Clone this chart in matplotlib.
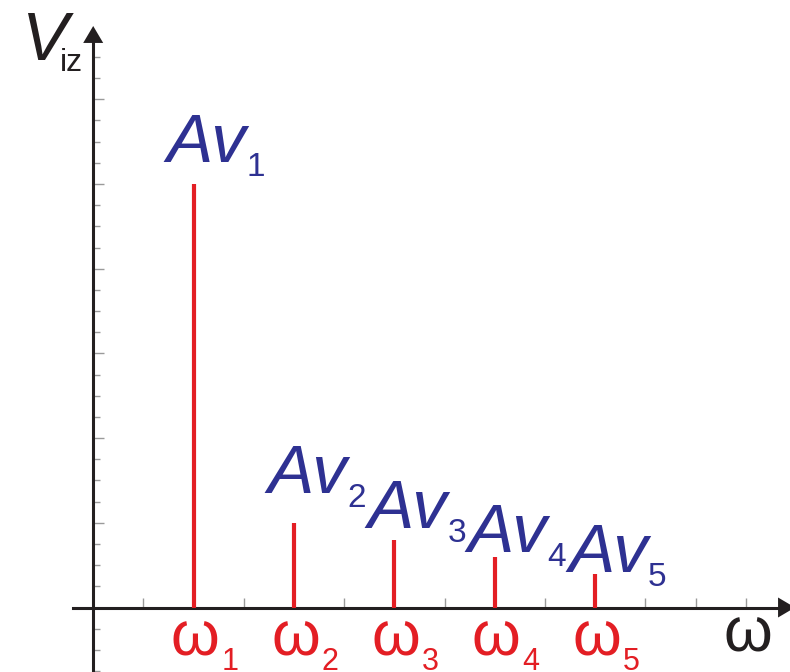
import numpy as np
import matplotlib
matplotlib.use("Agg")
import matplotlib.pyplot as plt
from matplotlib.ticker import FixedLocator

# -------------------------------
# Dados do espectro
# -------------------------------
freq_pos = [2, 4, 6, 8, 10]              # posições de ω1..ω5 (em divisões do eixo)
amplitudes = [5.0, 1.0, 0.8, 0.6, 0.4]   # Av1..Av5
indices = ["1", "2", "3", "4", "5"]

# deslocamento (px) dos rótulos Av acima do topo de cada raia
label_lift = [22, 30, 12, 5, 2]

BLUE = "#2E3192"
RED = "#E31E24"
DARK = "#231F20"
TICK = "#9a9a9a"

plt.rcParams["font.family"] = ["Liberation Sans", "DejaVu Sans"]

fig = plt.figure(figsize=(7.9, 6.72), dpi=100)
ax = fig.add_axes([0, 0, 1, 1])

# escala: 1 divisão x = 50.2 px, 1 divisão y = 84.7 px, origem em (93.2, 607.5)
ax.set_xlim(-93.2 / 50.2, (790 - 93.2) / 50.2)
ax.set_ylim(-(672 - 607.5) / 84.7, 607.5 / 84.7)

# -------------------------------
# Eixos com setas
# -------------------------------
y_top = (607.5 - 43) / 84.7
y_tip = (607.5 - 26) / 84.7
x_right = (778 - 93.2) / 50.2
x_tip = (795 - 93.2) / 50.2

for s in ["top", "right"]:
    ax.spines[s].set_visible(False)
ax.spines["left"].set_position(("data", 0))
ax.spines["bottom"].set_position(("data", 0))
ax.spines["left"].set_bounds(-1, y_top)
ax.spines["bottom"].set_bounds(-0.40, x_right)
for s in ["left", "bottom"]:
    ax.spines[s].set_color(DARK)
    ax.spines[s].set_linewidth(2.2)
    ax.spines[s].set_zorder(3)

arrow = dict(arrowstyle="-|>,head_length=12.2,head_width=7.2", mutation_scale=1,
             color=DARK, lw=0, shrinkA=0, shrinkB=0)
ax.annotate("", xy=(0, y_tip), xytext=(0, y_top - 0.05), arrowprops=arrow,
            annotation_clip=False)
ax.annotate("", xy=(x_tip, 0), xytext=(x_right - 0.1, 0), arrowprops=arrow,
            annotation_clip=False)

# marcas dos eixos
ax.xaxis.set_major_locator(FixedLocator(np.arange(1, 14)))
ax.yaxis.set_major_locator(FixedLocator(np.arange(1, 7)))
ax.yaxis.set_minor_locator(FixedLocator(np.arange(-0.75, 6.6, 0.25)))
ax.tick_params(axis="x", which="major", direction="in", length=7.5, width=1,
               color=TICK, labelbottom=False)
ax.tick_params(axis="y", which="major", direction="in", length=8, width=1,
               color=TICK, labelleft=False)
ax.tick_params(axis="y", which="minor", direction="in", length=5, width=1,
               color=TICK)

# -------------------------------
# Raias do espectro
# -------------------------------
ax.vlines(freq_pos, 0, amplitudes, colors=RED, linewidth=3, zorder=4)

for x, a, k, lift in zip(freq_pos, amplitudes, indices, label_lift):
    t = ax.annotate("Av", xy=(x, a), xytext=(-27, lift), textcoords="offset pixels",
                    ha="left", va="baseline", fontsize=50, style="italic", color=BLUE)
    ax.annotate(k, xy=(1, 0), xycoords=t, xytext=(0, 0), textcoords="offset pixels",
                ha="left", va="baseline", fontsize=24, color=BLUE)

    w = ax.annotate("ω", xy=(x, 0), xytext=(-23, -48), textcoords="offset pixels",
                    ha="left", va="baseline", fontsize=45, color=RED,
                    annotation_clip=False)
    ax.annotate(k, xy=(1, 0), xycoords=w, xytext=(2, -1), textcoords="offset pixels",
                ha="left", va="baseline", fontsize=22, color=RED)

# rótulos dos eixos
ax.text(724 / 790, (672 - 652) / 672, "ω", transform=ax.transAxes, ha="left",
        va="baseline", fontsize=45, color=DARK)
v = ax.text(22 / 790, (672 - 60) / 672, "V", transform=ax.transAxes, ha="left",
            va="baseline", fontsize=50, style="italic", color=DARK)
ax.annotate("iz", xy=(1, 0), xycoords=v, xytext=(-8, 3), textcoords="offset pixels",
            ha="left", va="baseline", fontsize=23, color=DARK)

plt.savefig("out.png", dpi=100)
